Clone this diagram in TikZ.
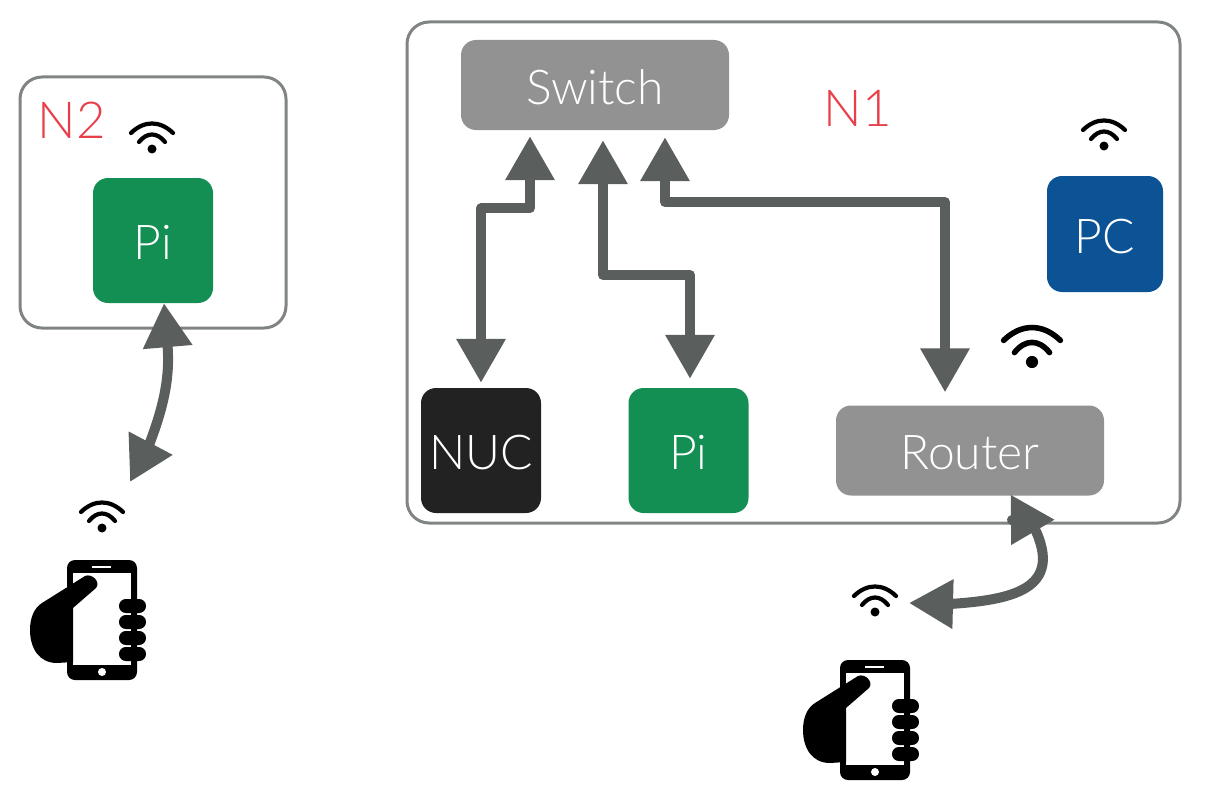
\documentclass[tikz,border=0pt]{standalone}
\usepackage{fontspec}
\setmainfont{Lato Light}
\usetikzlibrary{arrows.meta}
\definecolor{piG}{HTML}{148F54}
\definecolor{pcB}{HTML}{0B5394}
\definecolor{nucK}{HTML}{222222}
\definecolor{boxG}{HTML}{929292}
\definecolor{lineG}{HTML}{808583}
\definecolor{linkG}{HTML}{5A5E5C}
\definecolor{labR}{HTML}{E8404A}
\tikzset{
	dev/.style={fill=#1,text=white,rounded corners=15pt,inner sep=0pt,text height=38pt,text depth=0pt,font=\fontsize{48}{50}\selectfont},
	tile/.style={dev=#1,minimum width=120pt,minimum height=125pt},
	wide/.style={dev=boxG,minimum width=268pt,minimum height=90pt},
	net/.style={draw=lineG,line width=3pt,rounded corners=22pt},
	lab/.style={text=labR,font=\fontsize{51}{54}\selectfont},
	link/.style={draw=linkG,line width=10pt,line join=round,{Triangle[width=47pt,length=44pt]}-{Triangle[width=47pt,length=44pt]}},
	pics/wifi/.style={code={
		\fill (0,0) circle (4.5);
		\draw[line width=#1,line cap=round] (-21,-16) .. controls (-8,-28.7) and (8,-28.7) .. (21,-16);
		\draw[line width=#1,line cap=round] (-13,-7) .. controls (-5,-17) and (5,-17) .. (13,-7);
	}},
	phone/.pic={
		\fill[rounded corners=8pt] (0,0) rectangle (70,120);
		\fill[white] (6,13) rectangle (64,105);
		\draw[white,line width=1.8pt] (25,7) -- (44,7);
		\fill[white] (35,112) circle (4);
		\fill (-25,43) -- (18,16) .. controls (25,13) and (34,22) .. (29,28) -- (6,48) -- (6,102) -- (-10,103) .. controls (-28,103) and (-37,88) .. (-37,70) .. controls (-37,58) and (-33,48) .. (-25,43) -- cycle;
		\foreach \y in {46,62,78,94}
			\fill[rounded corners=6.9pt] (52,\y-7) rectangle (79,\y+7);
	}
}
\begin{document}
\begin{tikzpicture}[x=1pt,y=-1pt]
	\useasboundingbox (0,0) rectangle (1216,800);
	\draw[net] (20,77) rectangle (286,328);
	\draw[net] (407,22) rectangle (1180,523);
	\node[lab] (n2) at (72,120) {N2};
	\node[lab] (n1) at (858,108) {N1};
	\node[tile=piG] (pi2) at (153,240.5) {Pi};
	\node[wide] (switch) at (595,85) {Switch};
	\node[tile=nucK] (nuc) at (481,450.5) {NUC};
	\node[tile=piG] (pi1) at (688.5,450.5) {Pi};
	\node[wide] (router) at (970,450.5) {Router};
	\node[tile=pcB,minimum width=116pt,minimum height=116pt] (pc) at (1105,234) {PC};
	\coordinate (hand2) at (130,482);
	\coordinate (hand1) at (909,603);
	\draw[link] ([xshift=-65pt,yshift=-6pt]switch.south) -- ++(0,72) -| ([yshift=5pt]nuc.north);
	\draw[link] ([xshift=8pt,yshift=-10pt]switch.south) |- (690,275) -- ([xshift=1.5pt,yshift=9pt]pi1.north);
	\draw[link] ([xshift=70pt,yshift=-7pt]switch.south) |- (945,202) -- ([xshift=-25pt,yshift=13pt]router.north);
	\draw[link] ([xshift=11pt]pi2.south) .. controls (170,375) and (165,405) .. (147,450) -- (hand2);
	\draw[link] (hand1) -- (950,604) .. controls (1010,600) and (1065,590) .. (1034,527) -- (1012,520) -- ([xshift=85pt,yshift=-24pt]router.south);
	\pic at (152,149) {wifi=4.2pt};
	\pic at (102,528) {wifi=4.2pt};
	\pic at (875,612) {wifi=4.2pt};
	\pic at (1104,146) {wifi=4.2pt};
	\pic[scale=1.35] at (1032,362) {wifi=5.6pt};
	\pic at (67,560) {phone};
	\pic at (840,660) {phone};
\end{tikzpicture}
\end{document}
